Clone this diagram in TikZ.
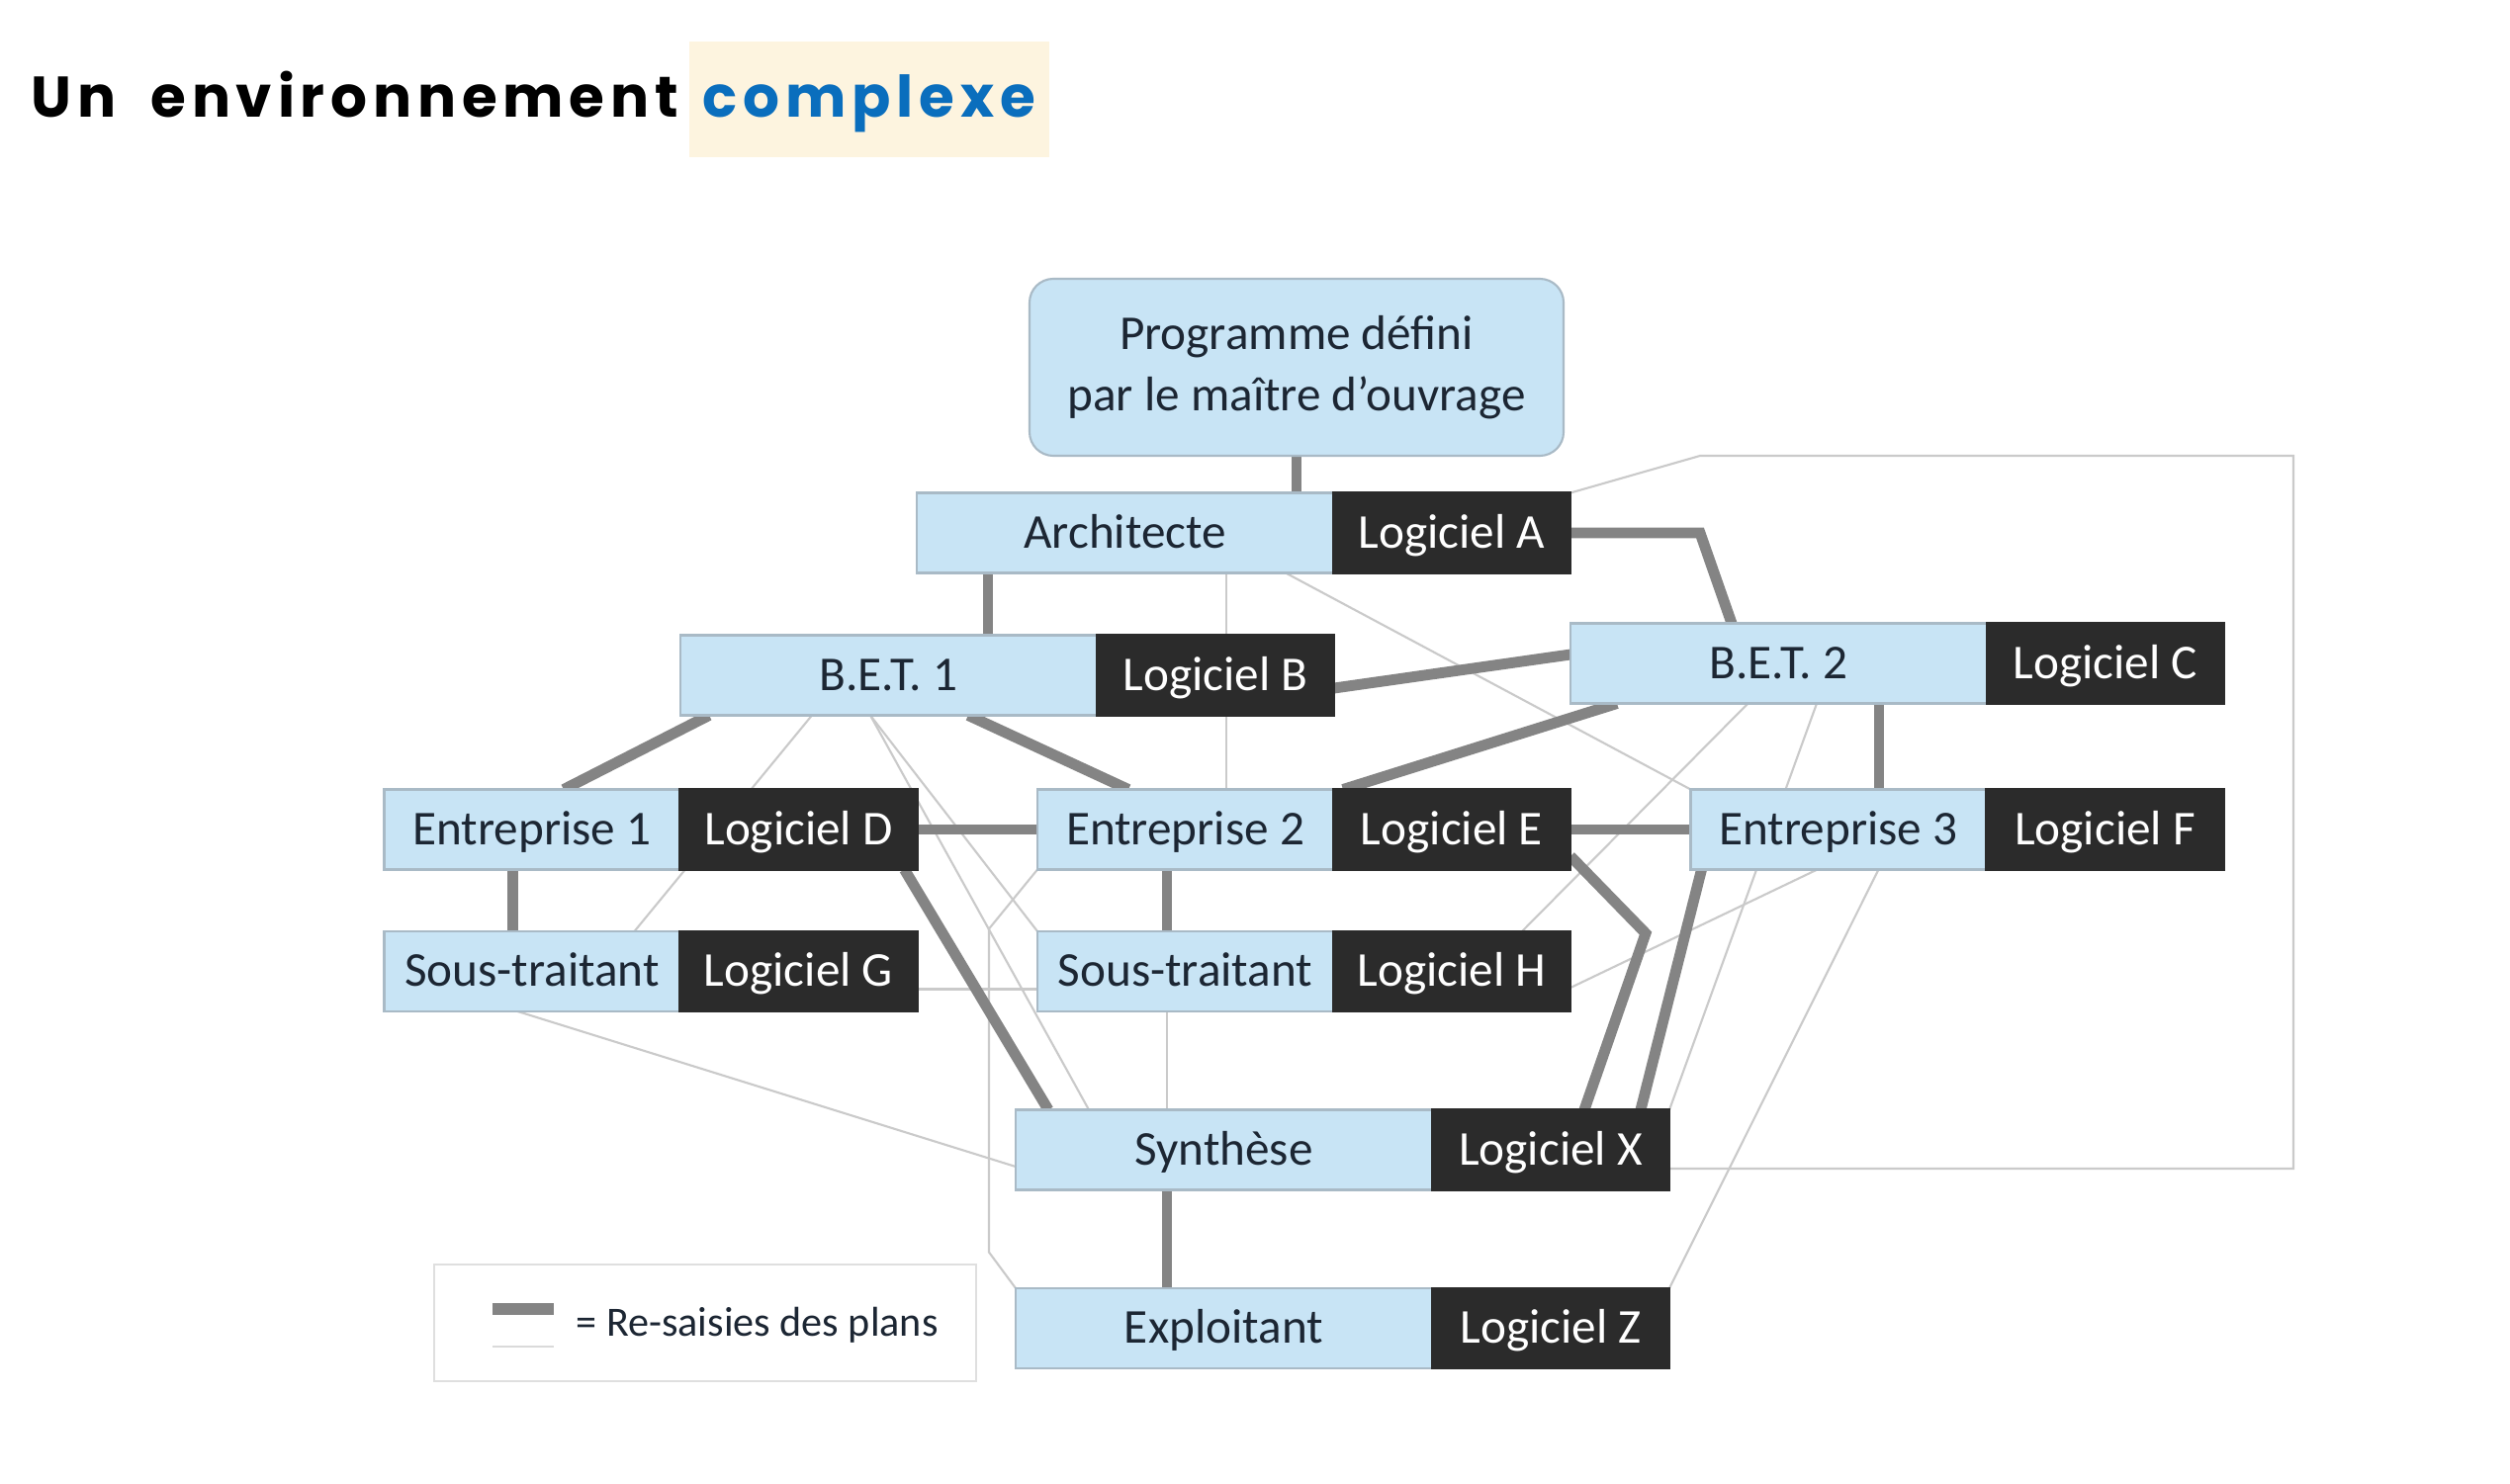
\documentclass[tikz,border=0pt]{standalone}
\usepackage{fontspec}
\setmainfont{Carlito}
\newfontfamily\titlefont{Poppins}[LetterSpace=10]
\usetikzlibrary{positioning,calc,backgrounds}
\definecolor{boxblue}{HTML}{C8E4F5}
\definecolor{boxline}{HTML}{A9BAC6}
\definecolor{softdark}{HTML}{2B2B2B}
\definecolor{ink}{HTML}{1C2633}
\definecolor{linkgrey}{HTML}{848484}
\definecolor{faintgrey}{HTML}{CACACA}
\definecolor{titleblue}{HTML}{0A6EBD}
\definecolor{hlcream}{HTML}{FDF4DF}
\tikzset{
  rolebox/.style={draw=boxline, line width=0.6pt, fill=boxblue, text=ink,
                  minimum height=0.81cm, inner sep=0pt, outer sep=0pt,
                  text height=3.2mm, text depth=0.2mm,
                  font=\fontsize{14pt}{16pt}\selectfont},
  widebox/.style={minimum width=4.21cm},
  narrowbox/.style={minimum width=2.99cm},
  softbox/.style={draw=softdark, line width=0.6pt, fill=softdark, text=white,
                  minimum height=0.81cm, minimum width=2.40cm, inner sep=0pt,
                  outer sep=0pt, text height=3.2mm, text depth=0.2mm,
                  font=\fontsize{14pt}{16pt}\selectfont},
  resaisie/.style={line width=3.1pt, color=linkgrey},
  echange/.style={line width=0.6pt, color=faintgrey}}

\begin{document}
\begin{tikzpicture}
  \useasboundingbox (0,0) rectangle (25.38,15);

  % title
  \node[anchor=base west, inner sep=0pt, font=\titlefont\bfseries\fontsize{16.5pt}{20pt}\selectfont]
    (title) at (0.31,13.81) {Un\hspace{0.17cm} environnement};
  \node[anchor=base west, fill=hlcream, inner xsep=0.14cm, inner ysep=0pt,
        text height=0.77cm, text depth=0.40cm, text=titleblue,
        font=\titlefont\bfseries\fontsize{16.5pt}{20pt}\selectfont]
    (hl) at (6.96,13.81) {complexe};

  % actors and their software
  \node[rolebox, rounded corners=0.24cm, minimum width=5.40cm,
        minimum height=1.79cm, align=center, text height=, text depth=,
        font=\fontsize{14pt}{17.5pt}\selectfont]
    (prog) at (13.11,11.285) {Programme défini\\par le maître d'ouvrage};
  \node[rolebox, widebox] (arch) at (11.375,9.61) {Architecte};
  \node[softbox, right=0pt of arch] (logA) {Logiciel A};
  \node[rolebox, widebox] (bet1) at (8.985,8.17) {B.E.T. 1};
  \node[softbox, right=0pt of bet1] (logB) {Logiciel B};
  \node[rolebox, widebox] (bet2) at (17.985,8.29) {B.E.T. 2};
  \node[softbox, right=0pt of bet2] (logC) {Logiciel C};
  \node[rolebox, narrowbox] (ent1) at (5.38,6.61) {Entreprise 1};
  \node[softbox, right=0pt of ent1] (logD) {Logiciel D};
  \node[rolebox, narrowbox] (ent2) at (11.985,6.61) {Entreprise 2};
  \node[softbox, right=0pt of ent2] (logE) {Logiciel E};
  \node[rolebox, narrowbox] (ent3) at (18.59,6.61) {Entreprise 3};
  \node[softbox, right=0pt of ent3] (logF) {Logiciel F};
  \node[rolebox, narrowbox] (stG) at (5.38,5.175) {Sous-traitant};
  \node[softbox, right=0pt of stG] (logG) {Logiciel G};
  \node[rolebox, narrowbox] (stH) at (11.985,5.175) {Sous-traitant};
  \node[softbox, right=0pt of stH] (logH) {Logiciel H};
  \node[rolebox, widebox] (synth) at (12.375,3.37) {Synthèse};
  \node[softbox, right=0pt of synth] (logX) {Logiciel X};
  \node[rolebox, widebox] (exploit) at (12.375,1.565) {Exploitant};
  \node[softbox, right=0pt of exploit] (logZ) {Logiciel Z};

  % legend
  \node[draw=faintgrey!60, line width=0.6pt, minimum width=5.48cm, minimum height=1.18cm]
    (legend) at (7.13,1.62) {};
  \draw[resaisie, line width=3.4pt] ([shift={(0.60,0.14)}]legend.west) -- ++(0.62,0);
  \draw[echange, color=faintgrey!70] ([shift={(0.60,-0.24)}]legend.west) -- ++(0.62,0);
  \node[anchor=west, inner sep=0pt, text=ink, font=\fontsize{12pt}{14pt}\selectfont]
    (legtext) at ([shift={(1.44,-0.02)}]legend.west) {= Re-saisies des plans};

  \begin{scope}[on background layer]
    \fill[white] (0,0) rectangle (25.38,15);
    % thin links
    \draw[echange] (logA.north east) -- ++(1.31,0.375) -- ++(6.0,0)
      |- ([yshift=-0.19cm]logX.east);
    \draw[echange] ([xshift=3.13cm]arch.south west)
      -- ([xshift=3.13cm]arch.south west |- ent2.north);
    \draw[echange] ([xshift=3.73cm]arch.south west) -- (ent3.north west);
    \draw[echange] ([xshift=1.33cm]bet1.south west) -- ([xshift=2.53cm]stG.north west);
    \draw[echange] ([xshift=1.92cm]bet1.south west) -- ([xshift=0.74cm]synth.north west);
    \draw[echange] ([xshift=1.92cm]bet1.south west) -- (stH.north west);
    \draw[echange] (ent2.south west) -- ++(-0.49,-0.60) -- ++(0,-3.27) -- (exploit.north west);
    \draw[echange] ([yshift=-0.18cm]logG.east) -- ([yshift=-0.18cm]stH.west);
    \draw[echange] ([xshift=1.35cm]stG.south west) -- ([yshift=-0.17cm]synth.west);
    \draw[echange] ([xshift=1.31cm]stH.south west) -- ([xshift=1.31cm]stH.south west |- synth.north);
    \draw[echange] ([xshift=1.795cm]bet2.south west) -- ([xshift=1.91cm]logH.north west);
    \draw[echange] ([xshift=2.49cm]bet2.south west) -- (logX.north east);
    \draw[echange] ([xshift=1.28cm]ent3.south west) -- ([yshift=-0.165cm]logH.east);
    \draw[echange] ([xshift=1.90cm]ent3.south west) -- (logZ.north east);
    % re-keyed plans
    \draw[resaisie] (prog.south) -- (prog.south |- arch.north);
    \draw[resaisie] ([xshift=0.72cm]arch.south west) -- ([xshift=0.72cm]arch.south west |- bet1.north);
    \draw[resaisie] (logA.east) -- ++(1.31,0) -- ([xshift=1.63cm]bet2.north west);
    \draw[resaisie] ([yshift=-0.13cm]logB.east) -- ([yshift=0.09cm]bet2.west);
    \draw[resaisie] ([xshift=0.29cm]bet1.south west) -- ([xshift=1.815cm]ent1.north west);
    \draw[resaisie] ([xshift=2.91cm]bet1.south west) -- ([xshift=0.92cm]ent2.north west);
    \draw[resaisie] ([xshift=0.47cm]bet2.south west) -- ([xshift=0.10cm]logE.north west);
    \draw[resaisie] ([xshift=3.12cm]bet2.south west) -- ([xshift=3.12cm]bet2.south west |- ent3.north);
    \draw[resaisie] (logD.east) -- (ent2.west);
    \draw[resaisie] (logE.east) -- (ent3.west);
    \draw[resaisie] ([xshift=1.30cm]ent1.south west) -- ([xshift=1.30cm]ent1.south west |- stG.north);
    \draw[resaisie] ([xshift=1.31cm]ent2.south west) -- ([xshift=1.31cm]ent2.south west |- stH.north);
    \draw[resaisie] ([xshift=2.27cm]logD.south west) -- ([xshift=0.33cm]synth.north west);
    \draw[resaisie] ([yshift=-0.27cm]logE.east) -- ++(0.76,-0.78) -- ([xshift=1.54cm]logX.north west);
    \draw[resaisie] ([xshift=0.11cm]ent3.south west) -- ([xshift=2.11cm]logX.north west);
    \draw[resaisie] ([xshift=1.53cm]synth.south west) -- ([xshift=1.53cm]synth.south west |- exploit.north);
  \end{scope}
\end{tikzpicture}
\end{document}
